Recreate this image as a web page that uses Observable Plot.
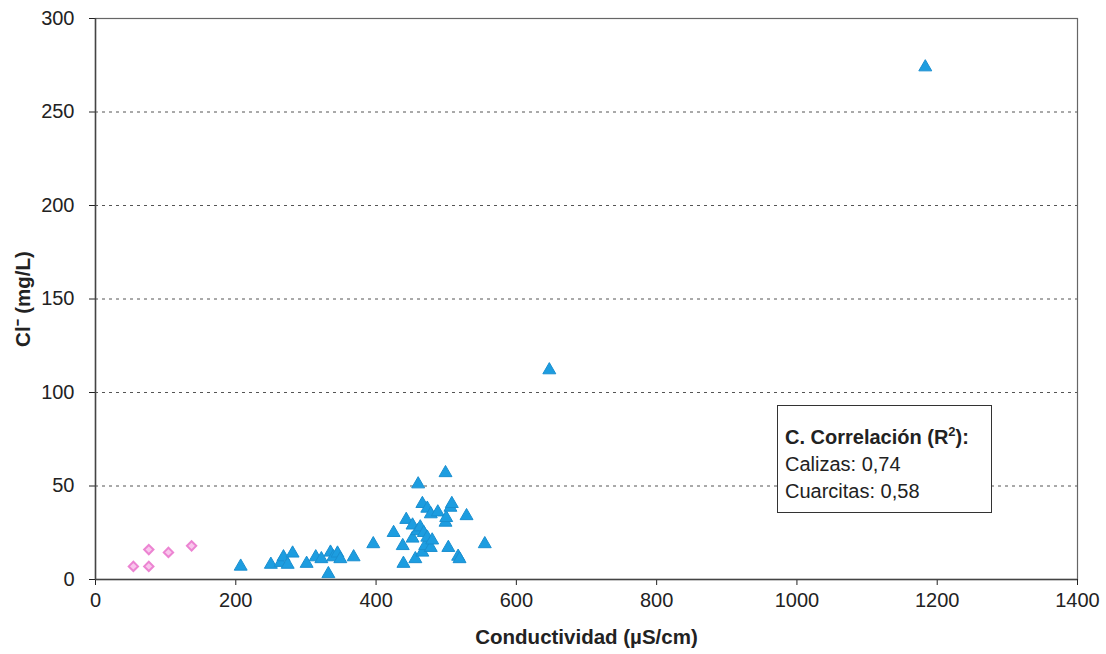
<!DOCTYPE html>
<html>
<head>
<meta charset="utf-8">
<script src="https://cdn.jsdelivr.net/npm/d3@7"></script>
<script src="https://cdn.jsdelivr.net/npm/@observablehq/plot@0.6"></script>
<style>
  html, body { margin: 0; padding: 0; background: #fff; }
  #wrap { position: relative; width: 1106px; height: 654px; font-family: "Liberation Sans", Arial, sans-serif; }
  #legend { position: absolute; left: 777px; top: 405px; width: 215px; height: 108px; box-sizing: border-box;
    border: 1.5px solid #333; background: #fff; padding: 18px 0 0 7px; font-size: 20px; line-height: 27px; color: #222; }
  #legend b { font-weight: bold; }
</style>
</head>
<body>
<div id="wrap"><div id="legend"><b>C. Correlación (R<sup style="font-size:13px;line-height:0">2</sup>):</b><br>Calizas: 0,74<br>Cuarcitas: 0,58</div></div>
<script>
// Cuarcitas (pink diamonds)
const cuarcitasX = [54, 76, 76, 104, 137];
const cuarcitasY = [7, 16, 7, 14.5, 18];

// Calizas (blue triangles)
const calizasX = [207, 250, 264, 268, 274, 281, 301, 314, 322, 332, 335, 339, 345, 349, 368, 396,
  425, 438, 439, 443, 452, 452, 456, 459, 460, 463, 466, 466, 468, 470, 473, 473, 478, 478, 480, 488,
  499, 499, 500, 503, 506, 508, 517, 519, 529, 555, 647, 1183];
const calizasY = [7, 8, 9, 12, 8, 14, 8.5, 12, 11, 3, 14.5, 12, 14, 11, 12, 19,
  25, 18, 8.5, 32, 29, 22, 11, 26, 51, 28, 40.5, 14.5, 25, 18, 38, 22.5, 35, 17, 21, 36,
  57, 30.5, 33, 17, 38.5, 40.5, 12.3, 11, 34, 19, 112, 274];

const xTicks = [0, 200, 400, 600, 800, 1000, 1200, 1400];
const yTicks = [0, 50, 100, 150, 200, 250, 300];
const gridY = [50, 100, 150, 200, 250];

const cuarcitas = cuarcitasX.map((x, i) => ({x, y: cuarcitasY[i]}));
const calizas = calizasX.map((x, i) => ({x, y: calizasY[i]}));

const chart = Plot.plot({
  width: 1106,
  height: 654,
  marginLeft: 95,
  marginRight: 29,
  marginTop: 18,
  marginBottom: 75,
  style: { fontFamily: "Liberation Sans, Arial, sans-serif", fontSize: "20px", color: "#222", background: "#fff" },
  x: { domain: [0, 1400] },
  y: { domain: [0, 300] },
  marks: [
    Plot.ruleY(gridY, { stroke: "#555", strokeDasharray: "3,4", strokeWidth: 1 }),
    Plot.frame({ stroke: "#666", strokeWidth: 1.2 }),
    Plot.axisX({ ticks: xTicks, tickFormat: d => String(d), tickSize: 6, tickPadding: 7, fontSize: 20,
      label: "Conductividad (µS/cm)", labelAnchor: "center", labelArrow: "none", labelOffset: 64 }),
    Plot.axisY({ ticks: yTicks, tickFormat: d => String(d), tickSize: 6, tickPadding: 15, fontSize: 20,
      label: "Cl⁻ (mg/L)", labelAnchor: "center", labelArrow: "none", labelOffset: 80 }),
    Plot.ruleY([0], { stroke: "#444", strokeWidth: 1.5 }),
    Plot.ruleX([0], { stroke: "#444", strokeWidth: 1.5 }),
    Plot.dot(cuarcitas, { x: "x", y: "y", symbol: "diamond2", r: 4.2, fill: "#f9c6ec", stroke: "#ec84d2", strokeWidth: 2 }),
    Plot.dot(calizas, { x: "x", y: "y", symbol: "triangle", r: 4.8, fill: "#1d9de0", stroke: "#1a8fd0", strokeWidth: 1 })
  ]
});
chart.style.position = "absolute";
chart.style.left = "0";
chart.style.top = "0";
d3.select(chart).selectAll("g[aria-label='x-axis label'] text, g[aria-label='y-axis label'] text")
  .style("font-weight", "bold").style("font-size", "20.5px");
const wrap = document.getElementById("wrap");
wrap.insertBefore(chart, wrap.firstChild);
</script>
</body>
</html>
